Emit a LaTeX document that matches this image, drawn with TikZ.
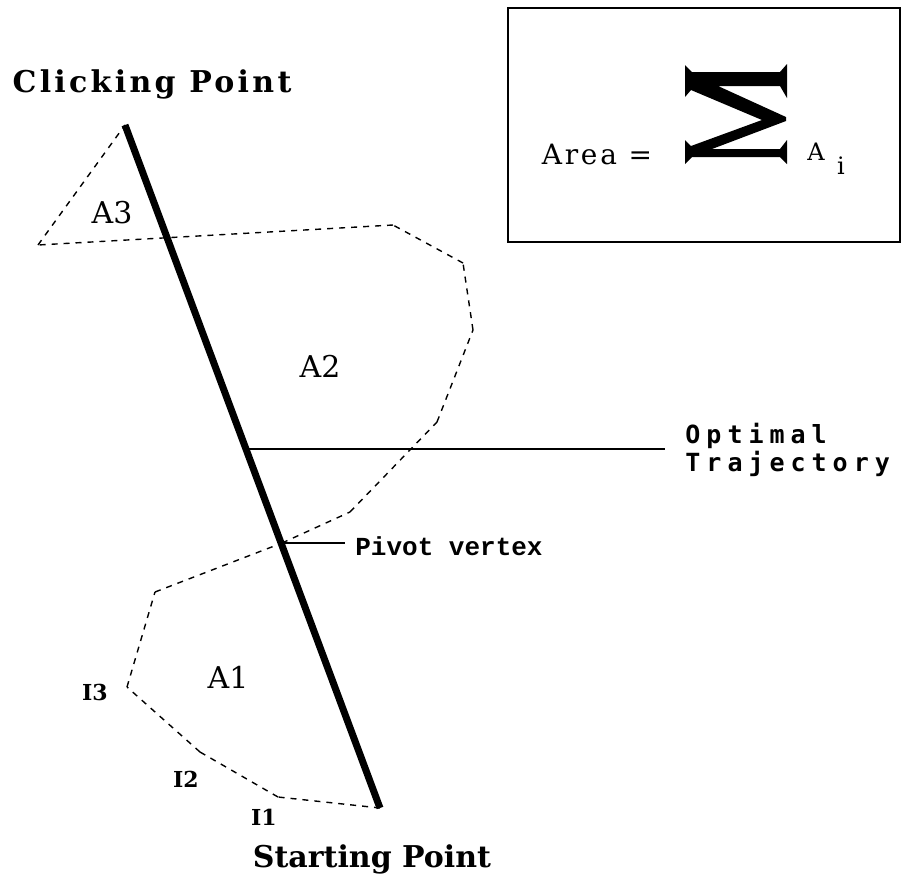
\documentclass[tikz,border=0pt]{standalone}
\usepackage{fontspec}
\setmainfont{DejaVu Serif}
\newfontfamily\pixfont[LetterSpace=24]{DejaVu Sans Mono}
\newfontfamily\typefont{Liberation Mono}
\begin{document}
\begin{tikzpicture}
  [x=0.5pt,y=-0.5pt,
   every node/.style={inner sep=0pt},
   trace/.style={line width=0.7pt,dash pattern=on 3pt off 3pt},
   optimal/.style={line width=3.5pt},
   pointer/.style={line width=0.6pt},
   title/.style={font=\fontsize{15}{18}\selectfont\bfseries},
   region/.style={font=\fontsize{15}{17}\selectfont},
   tick/.style={font=\fontsize{11}{13}\selectfont\bfseries}]
  \useasboundingbox (0,0) rectangle (902,875);

  % vertices of the traced path
  \coordinate (c) at (125,125);
  \coordinate (s) at (380,808);
  \coordinate (i1) at (278,797);
  \coordinate (i2) at (200,752);
  \coordinate (i3) at (127,687);
  \coordinate (v4) at (155,592);
  \coordinate (pv) at (282,543);
  \coordinate (v6) at (350,512);
  \coordinate (v7) at (437,422);
  \coordinate (v8) at (473,330);
  \coordinate (v9) at (463,263);
  \coordinate (v10) at (393,225);
  \coordinate (v11) at (38,245);
  \coordinate (ot) at (246,449);
  \coordinate (otend) at (665,449);
  \coordinate (pvend) at (345,543);

  \foreach \from/\to in {s/i1, i1/i2, i2/i3, i3/v4, v4/pv, pv/v6, v6/v7, v7/v8,
                         v8/v9, v9/v10, v10/v11, v11/c}
    \draw[trace] (\from) -- (\to);

  \draw[optimal] (c) -- (s);
  \draw[pointer] (ot) -- (otend);
  \draw[pointer] (pv) -- (pvend);

  \node[title] (click) at (152,84) {\addfontfeature{LetterSpace=11}Clicking Point};
  \node[title] (start) at (372,859) {Starting Point};

  \node[region] (a3) at (112,213) {A3};
  \node[region] (a2) at (320,366) {A2};
  \node[region] (a1) at (228,677) {A1};
  \node[tick] (t3) at (95,692) {I3};
  \node[tick] (t2) at (186,779) {I2};
  \node[tick] (t1) at (264,817) {I1};

  \node[anchor=north west,align=left,font=\pixfont\fontsize{12.5}{14}\selectfont\bfseries]
    (optlabel) at (685,423) {Optimal\\Trajectory};
  \node[anchor=west,font=\typefont\fontsize{13}{15}\selectfont\bfseries]
    (pvlabel) at (355,546) {Pivot vertex};

  % formula box
  \draw[line width=1.1pt] (508,8) rectangle (900,242);
  \node[font=\fontsize{14}{16}\selectfont\addfontfeature{LetterSpace=10}] (area) at (597,154) {Area =};
  \fill (685,65) -- (692,72) -- (780,72) -- (787,64) -- (787,98) -- (780,86)
    -- (718,86) -- (786,117) -- (786,121) -- (712,149) -- (780,149) -- (787,140)
    -- (787,164) -- (780,157) -- (692,157) -- (685,164) -- (685,140) -- (691,146)
    -- (762,120) -- (691,90) -- (685,97) -- cycle;
  \node[font=\fontsize{12}{14}\selectfont] (ai) at (816,152) {A};
  \node[font=\fontsize{12}{14}\selectfont] (sub) at (841,166) {i};
\end{tikzpicture}
\end{document}
